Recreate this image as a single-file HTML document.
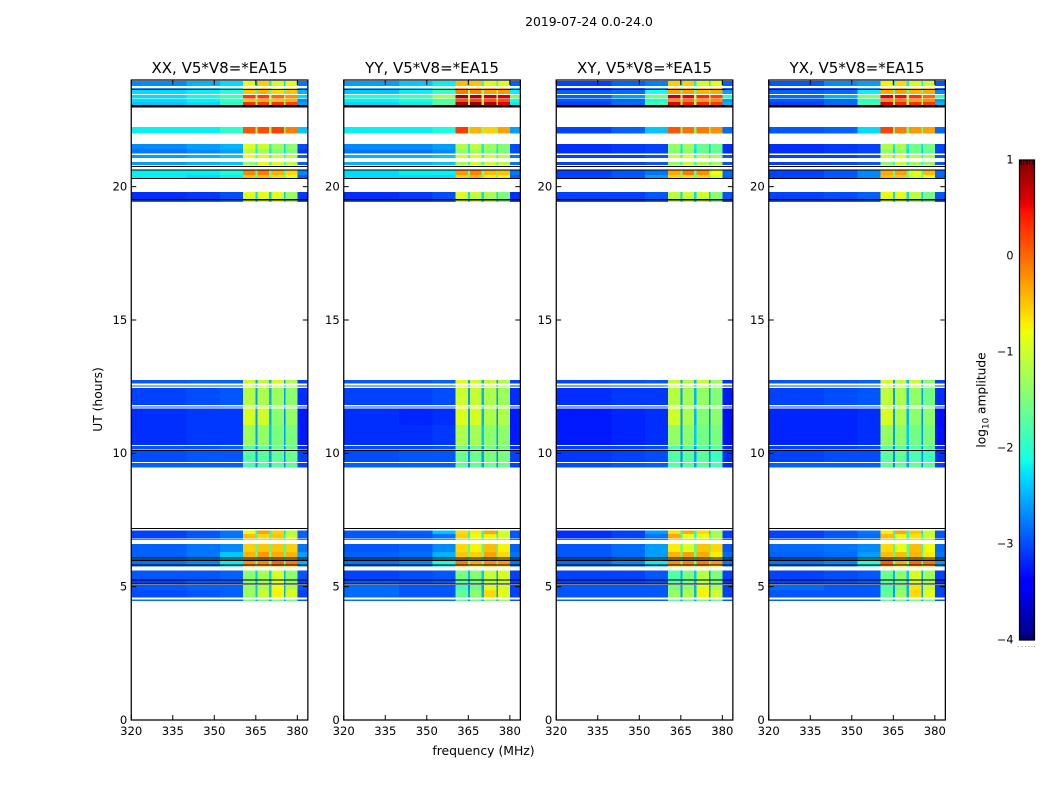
<!DOCTYPE html>
<html lang="en">
<head>
<meta charset="utf-8">
<title>2019-07-24 0.0-24.0</title>
<style>
html,body{margin:0;padding:0;background:#fff;}
svg{display:block;font-family:"DejaVu Sans","Liberation Sans",sans-serif;}
text{fill:#000;}
</style>
</head>
<body>
<svg id="figure" xmlns="http://www.w3.org/2000/svg" width="1050" height="800" viewBox="0 0 1050 800">
  <text x="589" y="26" text-anchor="middle" font-size="12.4">2019-07-24 0.0-24.0</text>
  <g id="panels"></g>
  <text x="483.5" y="755" text-anchor="middle" font-size="12.4">frequency (MHz)</text>
  <text transform="translate(102,399.5) rotate(-90)" text-anchor="middle" font-size="12.3">UT (hours)</text>
  <g id="colorbar"></g>
  <text transform="translate(985.5,400) rotate(-90)" text-anchor="middle" font-size="12.2">log<tspan font-size="8.8" dy="3">10</tspan><tspan dy="-3"> amplitude</tspan></text>
</svg>
<script>
// Axis limits and ticks
const freqLimits = [320, 383.8];
const hourLimits = [0, 24];
const freqTicks = [320, 335, 350, 365, 380];
const hourTicks = [0, 5, 10, 15, 20];
const colorTicks = [-4, -3, -2, -1, 0, 1];
const colorLimits = [-4, 1];

// Panel titles
const panelTitles = ["XX, V5*V8=*EA15", "YY, V5*V8=*EA15", "XY, V5*V8=*EA15", "YX, V5*V8=*EA15"];

// Channel band edges in MHz (11 bands)
const freqEdges = [320, 340, 352, 360.4, 364.8, 365.7, 369.8, 370.6, 375.1, 375.8, 380, 383.8];

// Observation time slices: start and end hour of each row
const rowEndHours = [23.96,23.70,23.625,23.44,23.29,23.175,22.24,21.60,21.41,21.19,20.925,20.775,20.60,20.44,19.80,19.50,12.75,12.55,12.45,11.76,11.68,11.06,10.275,10.09,9.64,7.11,6.98,6.79,6.60,6.30,6.06,5.98,5.81,5.60,5.23,5.07,4.875,4.525];
const rowStartHours = [23.775,23.65,23.475,23.31,23.175,23.06,22.00,21.41,21.24,21.075,20.81,20.74,20.44,20.30,19.525,19.425,12.61,12.53,11.81,11.73,11.06,10.31,10.14,9.68,9.46,6.98,6.81,6.75,6.30,6.09,6.00,5.83,5.75,5.25,5.10,4.875,4.59,4.47];

// Flagged (black) time ranges
const flagEndHours = [23.66,23.06,20.78,20.64,20.32,19.53,10.12,7.20,6.09,6.01,5.83,5.27,5.12];
const flagStartHours = [23.62,22.975,20.74,20.60,20.28,19.49,10.08,7.16,6.05,5.97,5.79,5.23,5.08];

// log10 amplitude, one row per time slice, one value per channel band
const valuesXX = [
[-2.7,-2.5,-2.3,-0.85,-2.4,-0.55,-2.2,-1.0,-2.3,-0.9,-2.8],
[-2.6,-2.5,-2.3,-0.6,-2.0,-0.5,-2.0,-0.7,-2.0,-0.6,-2.6],
[-2.3,-2.2,-2.0,-0.5,-1.8,-0.4,-1.8,-0.6,-1.9,-0.5,-2.5],
[-2.3,-2.15,-1.9,0.25,-1.2,0.25,-1.2,0.0,-1.2,-0.2,-2.3],
[-2.3,-2.2,-1.9,-0.5,-1.6,-0.35,-1.6,-0.5,-1.6,-0.4,-2.7],
[-2.4,-2.3,-2.0,0.3,-1.2,0.25,-1.2,0.3,-1.2,0.2,-2.6],
[-2.2,-2.2,-2.0,0.1,-1.4,0.15,-1.4,0.2,-1.5,-0.1,-2.4],
[-2.7,-2.6,-2.5,-0.9,-2.1,-1.0,-2.1,-1.3,-2.3,-1.4,-3.0],
[-2.8,-2.7,-2.6,-1.1,-2.2,-1.3,-2.2,-1.45,-2.3,-1.5,-3.1],
[-2.6,-2.5,-2.4,-0.8,-1.9,-0.75,-1.9,-1.0,-2.0,-1.1,-2.9],
[-2.6,-2.5,-2.4,-1.3,-1.9,-0.8,-1.9,-0.9,-2.0,-1.1,-2.9],
[-2.4,-2.4,-2.3,-1.2,-1.9,-0.9,-1.9,-1.0,-2.0,-1.2,-2.8],
[-2.2,-2.2,-2.1,-0.15,-1.6,-0.1,-1.6,-0.4,-1.8,-0.6,-2.7],
[-2.2,-2.3,-2.2,-0.5,-1.7,-0.45,-1.7,-0.6,-1.8,-0.9,-2.9],
[-3.15,-3.1,-3.0,-0.9,-2.3,-0.85,-2.3,-0.85,-2.4,-1.3,-3.1],
[-2.85,-2.8,-2.7,-1.1,-2.4,-1.0,-2.4,-1.0,-2.4,-1.3,-2.95],
[-2.95,-2.9,-2.9,-1.0,-2.6,-1.1,-2.5,-0.95,-2.6,-1.2,-3.05],
[-2.9,-2.9,-2.9,-1.05,-2.6,-1.15,-2.5,-1.0,-2.6,-1.25,-3.05],
[-3.05,-3.0,-2.95,-1.15,-2.6,-1.2,-2.5,-1.3,-2.6,-1.4,-3.15],
[-2.95,-2.95,-2.9,-1.2,-2.6,-1.2,-2.5,-1.3,-2.6,-1.4,-3.05],
[-3.15,-3.1,-3.1,-0.95,-2.6,-1.0,-2.5,-1.4,-2.7,-1.35,-3.25],
[-3.15,-3.1,-3.1,-1.3,-2.6,-1.35,-2.4,-1.5,-2.6,-1.5,-3.25],
[-2.95,-2.95,-2.9,-1.8,-2.7,-1.7,-2.6,-1.6,-2.7,-1.65,-3.15],
[-3.0,-2.95,-2.95,-1.75,-2.7,-1.7,-2.6,-1.65,-2.7,-1.6,-3.05],
[-2.9,-2.9,-2.9,-1.8,-2.7,-1.75,-2.6,-1.7,-2.7,-1.7,-3.05],
[-3.05,-2.95,-2.8,-0.8,-2.1,-0.3,-2.1,-0.55,-2.3,-1.2,-2.9],
[-3.05,-2.95,-2.8,-0.45,-1.9,-0.6,-1.9,-0.5,-2.1,-1.0,-2.9],
[-2.6,-2.6,-2.5,-1.4,-2.0,-1.4,-2.0,-1.4,-2.1,-1.5,-2.7],
[-2.9,-2.8,-2.7,-0.55,-1.8,-0.5,-1.8,-0.5,-1.9,-0.55,-2.8],
[-2.9,-2.8,-2.4,-0.4,-1.6,-0.25,-1.6,-0.35,-1.7,-0.4,-2.6],
[-2.6,-2.5,-2.2,-0.4,-1.6,-0.3,-1.6,-0.4,-1.7,-0.5,-2.5],
[-2.8,-2.7,-2.2,-0.2,-1.5,-0.15,-1.5,0.0,-1.5,-0.1,-2.5],
[-2.9,-2.85,-2.5,-0.3,-1.7,-0.4,-1.7,-0.3,-1.8,-0.4,-2.7],
[-2.95,-2.95,-2.9,-1.4,-2.4,-1.25,-2.3,-0.95,-2.5,-1.4,-2.95],
[-3.05,-2.95,-2.95,-1.45,-2.5,-1.3,-2.4,-0.9,-2.6,-1.4,-3.05],
[-2.95,-2.9,-2.9,-1.35,-2.4,-1.2,-2.4,-0.8,-2.5,-1.15,-2.95],
[-3.0,-2.95,-2.9,-1.3,-2.4,-1.05,-2.4,-0.75,-2.5,-0.95,-3.05],
[-2.85,-2.85,-2.85,-1.6,-2.5,-1.6,-2.5,-1.5,-2.6,-1.6,-2.95]
];
const valuesYY = [
[-2.6,-2.4,-2.2,-0.45,-2.0,-0.5,-2.0,-0.9,-2.0,-0.9,-2.9],
[-2.4,-2.3,-2.0,-0.3,-1.6,-0.35,-1.6,-0.4,-1.6,-0.4,-2.4],
[-2.4,-2.2,-1.9,-0.1,-1.3,-0.15,-1.3,-0.3,-1.3,-0.25,-2.2],
[-2.1,-1.9,-1.3,0.85,-1.0,0.8,-1.0,0.7,-1.0,0.65,-1.5],
[-2.2,-2.1,-1.8,0.1,-1.2,0.2,-1.2,0.1,-1.2,0.15,-2.1],
[-2.3,-2.2,-1.7,0.8,-0.9,0.9,-0.9,0.75,-0.9,0.55,-2.2],
[-2.2,-2.2,-2.1,0.25,-1.5,-0.4,-1.5,-0.55,-1.6,-0.3,-2.6],
[-2.7,-2.7,-2.6,-1.2,-2.2,-1.1,-2.2,-1.3,-2.2,-1.45,-3.0],
[-2.8,-2.8,-2.7,-1.35,-2.2,-1.25,-2.2,-1.4,-2.3,-1.5,-3.0],
[-2.5,-2.5,-2.4,-0.95,-2.0,-0.85,-2.0,-1.0,-2.0,-1.1,-2.8],
[-2.5,-2.5,-2.4,-1.2,-2.0,-1.0,-2.0,-1.0,-2.0,-1.1,-2.8],
[-2.5,-2.5,-2.4,-1.2,-2.0,-1.0,-2.0,-1.1,-2.0,-1.2,-2.8],
[-2.3,-2.2,-2.2,-0.25,-1.6,-0.15,-1.6,-0.45,-1.7,-0.5,-2.8],
[-2.3,-2.3,-2.3,-0.55,-1.7,-0.4,-1.7,-0.7,-1.8,-0.75,-2.9],
[-3.15,-3.1,-3.0,-0.9,-2.3,-1.05,-2.3,-1.2,-2.3,-1.5,-3.15],
[-2.9,-2.9,-2.85,-1.1,-2.4,-1.1,-2.4,-1.3,-2.4,-1.5,-3.0],
[-2.95,-2.95,-2.9,-0.9,-2.6,-1.0,-2.5,-1.05,-2.6,-1.2,-3.05],
[-2.95,-2.95,-2.9,-0.95,-2.6,-1.05,-2.5,-1.1,-2.6,-1.25,-3.05],
[-3.05,-3.05,-3.0,-1.0,-2.6,-1.05,-2.5,-1.2,-2.6,-1.3,-3.15],
[-2.95,-2.95,-2.95,-1.05,-2.6,-1.1,-2.5,-1.25,-2.6,-1.35,-3.05],
[-3.15,-3.2,-3.15,-0.9,-2.6,-0.95,-2.5,-1.2,-2.7,-1.2,-3.25],
[-3.15,-3.15,-3.1,-1.2,-2.6,-1.25,-2.4,-1.4,-2.6,-1.4,-3.25],
[-3.0,-3.0,-2.95,-1.6,-2.7,-1.6,-2.6,-1.55,-2.7,-1.55,-3.15],
[-3.0,-2.95,-2.95,-1.6,-2.7,-1.6,-2.6,-1.5,-2.7,-1.5,-3.05],
[-2.9,-2.9,-2.9,-1.65,-2.7,-1.65,-2.6,-1.6,-2.7,-1.6,-3.05],
[-2.95,-2.9,-2.4,-0.6,-2.1,-0.7,-2.1,-0.35,-2.3,-1.0,-2.95],
[-2.95,-2.95,-2.8,-0.55,-2.0,-0.8,-2.0,-0.75,-2.1,-0.95,-2.95],
[-2.7,-2.7,-2.6,-1.4,-2.1,-1.4,-2.1,-1.4,-2.1,-1.5,-2.8],
[-2.95,-2.9,-2.7,-0.6,-1.8,-0.75,-1.8,-0.45,-1.9,-0.75,-2.9],
[-2.9,-2.85,-2.5,-0.5,-1.6,-0.55,-1.6,-0.3,-1.7,-0.6,-2.8],
[-2.7,-2.6,-2.2,-0.4,-1.6,-0.6,-1.6,-0.5,-1.7,-0.7,-2.7],
[-2.8,-2.7,-2.1,-0.1,-1.5,-0.35,-1.5,-0.2,-1.6,-0.25,-2.8],
[-2.9,-2.85,-2.4,-0.4,-1.7,-0.6,-1.7,-0.4,-1.8,-0.5,-2.85],
[-3.05,-3.0,-2.95,-1.5,-2.5,-1.45,-2.4,-1.05,-2.6,-0.95,-3.05],
[-2.95,-3.0,-2.95,-1.7,-2.6,-1.6,-2.5,-1.2,-2.6,-1.05,-3.05],
[-2.85,-2.95,-2.95,-1.9,-2.7,-1.6,-2.6,-0.95,-2.6,-0.95,-3.05],
[-2.85,-2.95,-2.95,-1.65,-2.6,-1.4,-2.5,-0.6,-2.6,-0.9,-3.05],
[-2.85,-2.85,-2.85,-1.7,-2.6,-1.6,-2.5,-1.4,-2.6,-1.4,-2.95]
];
const valuesXY = [
[-3.05,-2.9,-2.75,-0.55,-2.2,-0.55,-2.2,-1.0,-2.2,-0.85,-2.9],
[-3.05,-2.9,-2.6,-0.4,-1.9,-0.4,-1.9,-0.55,-1.9,-0.5,-2.85],
[-2.9,-2.85,-2.1,-0.3,-1.6,-0.3,-1.6,-0.4,-1.6,-0.35,-2.6],
[-2.9,-2.6,-1.6,0.7,-1.1,0.55,-1.1,0.35,-1.1,0.2,-2.0],
[-2.95,-2.85,-2.1,-0.2,-1.5,-0.1,-1.5,-0.3,-1.5,-0.2,-2.6],
[-3.05,-2.85,-1.9,0.6,-1.0,0.4,-1.0,0.35,-1.1,0.25,-2.5],
[-3.05,-2.9,-2.4,0.1,-1.5,-0.05,-1.5,-0.1,-1.5,-0.2,-2.85],
[-3.15,-3.1,-3.05,-1.35,-2.2,-1.25,-2.2,-1.6,-2.3,-1.6,-3.15],
[-3.15,-3.1,-3.05,-1.45,-2.3,-1.4,-2.3,-1.65,-2.4,-1.7,-3.15],
[-3.05,-3.05,-2.95,-1.0,-2.0,-0.8,-2.0,-1.1,-2.1,-1.2,-2.95],
[-3.05,-3.05,-2.95,-1.4,-2.0,-1.0,-2.0,-1.2,-2.1,-1.3,-2.95],
[-2.95,-2.95,-2.9,-1.4,-2.1,-1.1,-2.1,-1.2,-2.1,-1.4,-2.9],
[-3.05,-2.95,-2.8,-0.35,-1.6,-0.1,-1.6,-0.2,-1.7,-0.8,-2.85],
[-3.05,-2.95,-2.6,-0.55,-1.7,-0.6,-1.7,-0.55,-1.8,-1.0,-2.9],
[-3.05,-3.05,-2.95,-1.1,-2.3,-1.0,-2.3,-1.0,-2.4,-1.4,-2.95],
[-2.95,-2.95,-2.85,-1.2,-2.4,-1.1,-2.4,-1.2,-2.4,-1.5,-2.95],
[-3.05,-3.0,-2.95,-1.05,-2.6,-1.15,-2.5,-1.05,-2.6,-1.3,-3.15],
[-3.05,-3.0,-2.95,-1.1,-2.6,-1.2,-2.5,-1.1,-2.6,-1.3,-3.15],
[-3.15,-3.1,-3.1,-1.15,-2.6,-1.25,-2.5,-1.35,-2.6,-1.45,-3.25],
[-3.05,-3.05,-3.05,-1.2,-2.6,-1.3,-2.5,-1.35,-2.6,-1.45,-3.15],
[-3.25,-3.2,-3.15,-1.0,-2.6,-1.2,-2.5,-1.45,-2.7,-1.4,-3.3],
[-3.25,-3.2,-3.15,-1.35,-2.6,-1.4,-2.4,-1.55,-2.6,-1.5,-3.3],
[-3.05,-3.05,-3.0,-1.8,-2.7,-1.75,-2.6,-1.75,-2.7,-1.75,-3.15],
[-3.1,-3.05,-3.0,-1.75,-2.7,-1.7,-2.6,-1.7,-2.7,-1.9,-3.15],
[-3.0,-2.95,-2.9,-1.75,-2.7,-1.7,-2.6,-1.7,-2.7,-1.8,-3.15],
[-3.15,-3.05,-2.6,-0.65,-2.1,-0.35,-2.1,-0.6,-2.3,-1.3,-3.05],
[-3.15,-3.05,-2.8,-0.35,-2.0,-0.8,-2.0,-0.8,-2.1,-1.2,-3.05],
[-2.8,-2.8,-2.7,-1.4,-2.1,-1.4,-2.1,-1.4,-2.1,-1.5,-2.85],
[-2.95,-2.85,-2.6,-0.7,-1.8,-0.9,-1.8,-0.5,-1.9,-0.6,-2.95],
[-2.95,-2.85,-2.6,-0.4,-1.7,-0.3,-1.7,-0.35,-1.8,-0.7,-2.85],
[-2.7,-2.6,-2.3,-0.5,-1.6,-0.4,-1.6,-0.5,-1.7,-0.7,-2.7],
[-2.85,-2.7,-2.2,-0.2,-1.5,-0.15,-1.5,-0.1,-1.6,-0.25,-2.8],
[-2.95,-2.9,-2.6,-0.5,-1.7,-0.5,-1.7,-0.4,-1.8,-0.6,-2.85],
[-3.05,-3.05,-2.95,-1.75,-2.5,-1.5,-2.4,-1.15,-2.6,-1.5,-3.05],
[-3.05,-3.05,-3.0,-1.7,-2.6,-1.55,-2.5,-1.1,-2.6,-1.5,-3.15],
[-2.95,-2.95,-2.95,-1.5,-2.6,-1.4,-2.5,-0.9,-2.6,-1.25,-3.05],
[-2.95,-2.95,-2.95,-1.35,-2.6,-1.2,-2.5,-0.75,-2.6,-1.0,-3.05],
[-2.9,-2.9,-2.9,-1.7,-2.6,-1.6,-2.5,-1.5,-2.6,-1.6,-2.95]
];
const valuesYX = [
[-2.95,-2.7,-2.6,-0.75,-2.2,-0.6,-2.2,-0.95,-2.2,-1.0,-2.95],
[-2.95,-2.9,-2.6,-0.45,-1.9,-0.4,-1.9,-0.55,-1.9,-0.5,-2.85],
[-2.9,-2.85,-2.2,-0.35,-1.6,-0.3,-1.6,-0.4,-1.6,-0.35,-2.7],
[-2.85,-2.5,-1.5,0.6,-1.1,0.5,-1.1,0.3,-1.1,0.0,-1.9],
[-2.95,-2.85,-2.0,-0.2,-1.5,-0.1,-1.5,-0.3,-1.5,-0.2,-2.6],
[-3.05,-2.85,-1.9,0.6,-1.0,0.35,-1.0,0.3,-1.1,0.25,-2.5],
[-2.95,-2.9,-2.3,0.2,-1.5,-0.1,-1.5,-0.25,-1.5,-0.3,-2.85],
[-3.15,-3.1,-3.05,-1.2,-2.2,-1.2,-2.2,-1.55,-2.3,-1.55,-3.05],
[-3.15,-3.1,-3.05,-1.35,-2.3,-1.35,-2.3,-1.6,-2.4,-1.65,-3.05],
[-3.05,-3.05,-2.95,-1.0,-2.0,-0.85,-2.0,-1.1,-2.1,-1.2,-2.95],
[-3.05,-3.05,-2.95,-1.4,-2.0,-1.0,-2.0,-1.3,-2.1,-1.35,-2.95],
[-2.95,-2.95,-2.9,-1.4,-2.1,-1.1,-2.1,-1.3,-2.1,-1.4,-2.9],
[-3.05,-2.95,-2.7,-0.35,-1.6,-0.3,-1.6,-0.9,-1.7,-0.45,-2.85],
[-3.05,-2.95,-2.7,-0.45,-1.7,-0.5,-1.7,-1.0,-1.8,-0.8,-2.9],
[-3.05,-3.0,-2.9,-0.85,-2.3,-0.85,-2.3,-1.1,-2.4,-1.55,-2.95],
[-2.9,-2.9,-2.85,-1.1,-2.4,-1.1,-2.4,-1.3,-2.4,-1.6,-2.95],
[-2.95,-2.95,-2.9,-0.95,-2.6,-1.1,-2.5,-1.05,-2.6,-1.4,-3.05],
[-2.95,-2.95,-2.9,-1.0,-2.6,-1.15,-2.5,-1.1,-2.6,-1.4,-3.05],
[-3.05,-3.0,-2.95,-1.1,-2.6,-1.2,-2.5,-1.35,-2.6,-1.55,-3.15],
[-3.0,-2.95,-2.95,-1.15,-2.6,-1.25,-2.5,-1.35,-2.6,-1.55,-3.1],
[-3.2,-3.2,-3.15,-0.95,-2.6,-1.2,-2.5,-1.4,-2.7,-1.4,-3.3],
[-3.2,-3.2,-3.15,-1.35,-2.6,-1.4,-2.4,-1.55,-2.6,-1.5,-3.3],
[-3.05,-3.05,-3.0,-1.75,-2.7,-1.7,-2.6,-1.75,-2.7,-1.75,-3.15],
[-3.05,-3.0,-3.0,-1.7,-2.7,-1.65,-2.6,-1.8,-2.7,-1.9,-3.15],
[-2.9,-2.9,-2.9,-1.65,-2.7,-1.65,-2.6,-1.65,-2.7,-1.7,-3.05],
[-3.05,-2.95,-2.8,-0.7,-2.1,-0.35,-2.1,-0.5,-2.3,-1.05,-2.95],
[-3.05,-2.95,-2.85,-0.45,-2.0,-0.75,-2.0,-0.65,-2.1,-1.0,-2.95],
[-2.8,-2.8,-2.7,-1.4,-2.1,-1.4,-2.1,-1.4,-2.1,-1.5,-2.9],
[-2.85,-2.8,-2.7,-0.6,-1.8,-0.8,-1.8,-0.45,-1.9,-0.8,-2.85],
[-2.9,-2.85,-2.6,-0.45,-1.7,-0.45,-1.7,-0.4,-1.8,-0.7,-2.8],
[-2.7,-2.6,-2.1,-0.4,-1.6,-0.6,-1.6,-0.5,-1.7,-0.7,-2.6],
[-2.8,-2.7,-2.0,0.05,-1.5,-0.35,-1.5,0.0,-1.6,-0.05,-2.6],
[-2.9,-2.85,-2.4,-0.4,-1.7,-0.6,-1.7,-0.4,-1.8,-0.5,-2.8],
[-3.05,-3.0,-2.95,-1.6,-2.5,-1.4,-2.4,-0.95,-2.6,-1.3,-3.05],
[-3.05,-3.0,-2.95,-1.7,-2.6,-1.5,-2.5,-0.95,-2.6,-1.3,-3.15],
[-2.85,-2.95,-2.95,-1.8,-2.6,-1.5,-2.5,-0.65,-2.6,-1.05,-3.05],
[-2.95,-2.95,-2.95,-1.65,-2.6,-1.3,-2.5,-0.6,-2.6,-0.9,-3.05],
[-2.9,-2.9,-2.9,-1.7,-2.6,-1.6,-2.5,-1.5,-2.6,-1.6,-2.95]
];
const panelValues = [valuesXX, valuesYY, valuesXY, valuesYX];

const NS = "http://www.w3.org/2000/svg";
const panelLefts = [131.25, 343.75, 556.25, 768.75];
const panelWidth = 176.6;
const plotTop = 80;
const plotBottom = 720;

function xScale(panel, f) {
  return panelLefts[panel] + (f - freqLimits[0]) / (freqLimits[1] - freqLimits[0]) * panelWidth;
}
function yScale(h) {
  return plotBottom - (h - hourLimits[0]) / (hourLimits[1] - hourLimits[0]) * (plotBottom - plotTop);
}
function clamp01(v) {
  return Math.max(0, Math.min(1, v));
}
function jet(t) {
  const r = t < 0.35 ? 0 : t < 0.66 ? (t - 0.35) / 0.31 : t < 0.89 ? 1 : 1 - (t - 0.89) / 0.11 * 0.5;
  const g = t < 0.125 ? 0 : t < 0.375 ? (t - 0.125) / 0.25 : t < 0.64 ? 1 : t < 0.91 ? 1 - (t - 0.64) / 0.27 : 0;
  const b = t < 0.11 ? 0.5 + t / 0.11 * 0.5 : t < 0.34 ? 1 : t < 0.65 ? 1 - (t - 0.34) / 0.31 : 0;
  return "rgb(" + Math.round(clamp01(r) * 255) + "," + Math.round(clamp01(g) * 255) + "," + Math.round(clamp01(b) * 255) + ")";
}
function colorOf(v) {
  return jet(clamp01((v - colorLimits[0]) / (colorLimits[1] - colorLimits[0])));
}
function makeRect(x, y, w, h, fill) {
  const r = document.createElementNS(NS, "rect");
  r.setAttribute("x", x);
  r.setAttribute("y", y);
  r.setAttribute("width", w);
  r.setAttribute("height", h);
  r.setAttribute("fill", fill);
  r.setAttribute("shape-rendering", "crispEdges");
  return r;
}
function makeLine(x1, y1, x2, y2, width, color) {
  const l = document.createElementNS(NS, "line");
  l.setAttribute("x1", x1);
  l.setAttribute("y1", y1);
  l.setAttribute("x2", x2);
  l.setAttribute("y2", y2);
  l.setAttribute("stroke", color);
  l.setAttribute("stroke-width", width);
  return l;
}
function makeText(x, y, str, size, anchor) {
  const t = document.createElementNS(NS, "text");
  t.setAttribute("x", x);
  t.setAttribute("y", y);
  t.setAttribute("font-size", size);
  t.setAttribute("text-anchor", anchor);
  t.textContent = str;
  return t;
}

const panelsRoot = document.getElementById("panels");
panelTitles.forEach(function (titleText, p) {
  const g = document.createElementNS(NS, "g");
  
  
  panelsRoot.appendChild(g);

  const values = panelValues[p];
  values.forEach(function (row, i) {
    const yTop = yScale(rowEndHours[i]);
    const yBot = yScale(rowStartHours[i]);
    row.forEach(function (v, b) {
      const x0 = xScale(p, freqEdges[b]);
      const x1 = xScale(p, freqEdges[b + 1]);
      const cell = makeRect(x0, yTop, x1 - x0, Math.max(yBot - yTop, 1), colorOf(v));
      
      
      g.appendChild(cell);
    });
  });

  flagStartHours.forEach(function (start, i) {
    const yTop = yScale(flagEndHours[i]);
    const yBot = yScale(start);
    const flag = makeRect(panelLefts[p], yTop, panelWidth, Math.max(yBot - yTop, 1), "#000");
    
    
    g.appendChild(flag);
  });

  const left = panelLefts[p];
  const right = left + panelWidth;

  freqTicks.forEach(function (f) {
    const x = xScale(p, f);
    const tickBottom = makeLine(x, plotBottom, x, plotBottom - 5, 1, "#000");
    
    
    g.appendChild(tickBottom);
    const tickTop = makeLine(x, plotTop, x, plotTop + 5, 1, "#000");
    
    
    g.appendChild(tickTop);
    const label = makeText(x, 735, String(f), 11.6, "middle");
    
    
    g.appendChild(label);
  });

  hourTicks.forEach(function (h) {
    const y = yScale(h);
    const tickLeft = makeLine(left, y, left + 5, y, 1, "#000");
    
    
    g.appendChild(tickLeft);
    const tickRight = makeLine(right, y, right - 5, y, 1, "#000");
    
    
    g.appendChild(tickRight);
    const label = makeText(left - 4, y + 3.8, String(h), 11.6, "end");
    
    
    g.appendChild(label);
  });

  const frame = document.createElementNS(NS, "rect");
  frame.setAttribute("x", left);
  frame.setAttribute("y", plotTop);
  frame.setAttribute("width", panelWidth);
  frame.setAttribute("height", plotBottom - plotTop);
  frame.setAttribute("fill", "none");
  frame.setAttribute("stroke", "#000");
  frame.setAttribute("stroke-width", "1.25");
  
  
  g.appendChild(frame);

  const title = makeText(left + panelWidth / 2, 73, titleText, 15, "middle");
  
  
  g.appendChild(title);
});

// Colorbar
const cbRoot = document.getElementById("colorbar");
const cbLeft = 1019.5;
const cbWidth = 15;
const cbTop = 160;
const cbBottom = 640;
function cbScale(v) {
  return cbBottom - (v - colorLimits[0]) / (colorLimits[1] - colorLimits[0]) * (cbBottom - cbTop);
}
for (let py = cbTop; py < cbBottom; py += 2) {
  const v = colorLimits[1] - (py + 1 - cbTop) / (cbBottom - cbTop) * (colorLimits[1] - colorLimits[0]);
  const seg = makeRect(cbLeft, py, cbWidth, 2, colorOf(v));
  
  
  cbRoot.appendChild(seg);
}
const cbMinorFractions = [0.1, 0.28, 0.5, 0.68, 0.9];
cbMinorFractions.forEach(function (frac) {
  const x = cbLeft + frac * cbWidth;
  const topTick = makeLine(x, cbTop, x, cbTop + 5, 0.8, "#000");
  
  
  cbRoot.appendChild(topTick);
  const bottomTick = makeLine(x, cbBottom, x, cbBottom - 5, 0.8, "#000");
  
  
  cbRoot.appendChild(bottomTick);
});
const cbDotPositions = [-0.13, 0.14, 0.37, 0.59, 0.81, 0.98];
cbDotPositions.forEach(function (frac) {
  const dot = makeRect(cbLeft + frac * cbWidth, 646, 1, 1, "#999");
  
  
  cbRoot.appendChild(dot);
});
const cbFrame = document.createElementNS(NS, "rect");
cbFrame.setAttribute("x", cbLeft);
cbFrame.setAttribute("y", cbTop);
cbFrame.setAttribute("width", cbWidth);
cbFrame.setAttribute("height", cbBottom - cbTop);
cbFrame.setAttribute("fill", "none");
cbFrame.setAttribute("stroke", "#000");
cbFrame.setAttribute("stroke-width", "1.25");


cbRoot.appendChild(cbFrame);
colorTicks.forEach(function (v) {
  const label = makeText(cbLeft - 6, cbScale(v) + 3.6, String(v).replace("-", "\u2212"), 11.2, "end");
  
  
  cbRoot.appendChild(label);
});
</script>
</body>
</html>
